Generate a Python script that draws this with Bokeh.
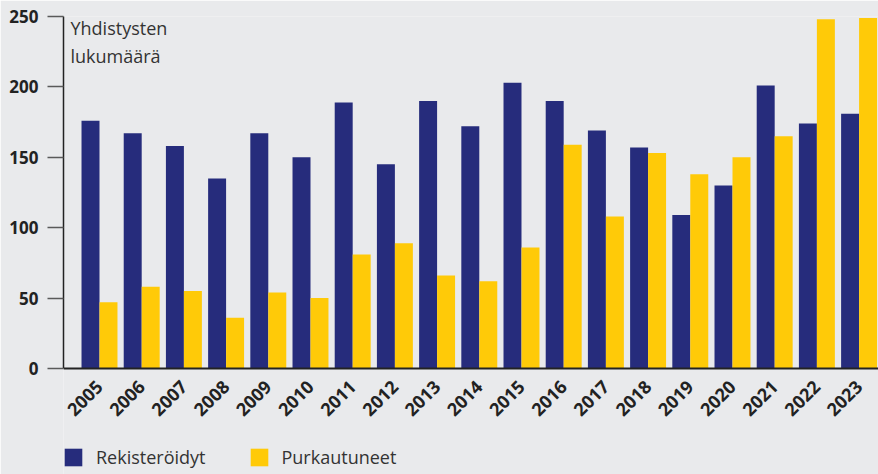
from bokeh.plotting import figure
from bokeh.models import Range1d, FixedTicker, Legend, LegendItem, Label, ColumnDataSource
from bokeh.transform import dodge
from bokeh.embed import file_html
from bokeh.resources import INLINE
from math import pi

years = [str(y) for y in range(2005, 2024)]
registered = [176, 167, 158, 135, 167, 150, 189, 145, 190, 172, 203, 190, 169, 157, 109, 130, 201, 174, 181]
dissolved = [47, 58, 55, 36, 54, 50, 81, 89, 66, 62, 86, 159, 108, 153, 138, 150, 165, 248, 249]
y_ticks = [0, 50, 100, 150, 200, 250]
series_names = ["Rekisteröidyt", "Purkautuneet"]
axis_title = ["Yhdistysten", "lukumäärä"]

BLUE = "#262C7C"
YELLOW = "#FFCA08"
BG = "#E9EAEC"
TEXT = "#222222"
FONT = "Open Sans"

source = ColumnDataSource(dict(idx=list(range(len(years))), reg=registered, dis=dissolved))

# frame runs from y=16 to the bottom of the page; value 0 sits at y=368
p = figure(width=878, height=474,
           x_range=Range1d(-0.853, 18.46), y_range=Range1d(-75.28, 250),
           output_backend="svg", toolbar_location=None,
           min_border_left=63, min_border_right=0, min_border_top=16, min_border_bottom=0)

p.background_fill_color = BG
p.border_fill_color = BG
p.outline_line_color = None
p.xgrid.grid_line_color = None
p.ygrid.grid_line_color = None

bw = 0.426
r1 = p.vbar(x=dodge("idx", -bw / 2), top="reg", width=bw, source=source,
            fill_color=BLUE, line_color=None)
r2 = p.vbar(x=dodge("idx", bw / 2), top="dis", width=bw, source=source,
            fill_color=YELLOW, line_color=None)

# x axis drawn at value 0
xa = p.xaxis[0]
xa.fixed_location = 0
xa.ticker = FixedTicker(ticks=list(range(len(years))))
xa.major_label_overrides = {i: y for i, y in enumerate(years)}
xa.major_label_orientation = pi / 4
xa.major_tick_line_color = None
xa.major_tick_out = 0
xa.major_tick_in = 0
xa.minor_tick_line_color = None
xa.axis_line_color = TEXT
xa.axis_line_width = 2
xa.major_label_text_font = FONT
xa.major_label_text_font_style = "bold"
xa.major_label_text_font_size = "18px"
xa.major_label_text_color = TEXT
xa.major_label_standoff = 15

# y axis
ya = p.yaxis[0]
ya.bounds = (0, 250)
ya.ticker = FixedTicker(ticks=y_ticks)
ya.minor_tick_line_color = None
ya.major_tick_out = 16
ya.major_tick_in = 0
ya.major_tick_line_color = "#5a5a5a"
ya.major_tick_line_width = 1.5
ya.axis_line_color = TEXT
ya.axis_line_width = 1.5
ya.major_label_text_font = FONT
ya.major_label_text_font_style = "bold"
ya.major_label_text_font_size = "17px"
ya.major_label_text_color = TEXT
ya.major_label_standoff = 9

# axis title inside plot area
for txt, yy in zip(axis_title, [241.5, 222.3]):
    p.add_layout(Label(x=-0.687, y=yy, text=txt, text_font=FONT, text_font_size="18px",
                       text_color="#333333", text_baseline="alphabetic", text_align="left"))

legend = Legend(items=[LegendItem(label=series_names[0], renderers=[r1]),
                       LegendItem(label=series_names[1], renderers=[r2])],
                location=(-1, 5), orientation="horizontal",
                background_fill_alpha=0, border_line_color=None,
                padding=0, margin=0, spacing=42, label_standoff=12,
                glyph_width=22, glyph_height=22, label_height=22,
                label_text_font=FONT, label_text_font_size="18px",
                label_text_color="#333333")
p.add_layout(legend)

open("out.html", "w").write(file_html(p, INLINE))
